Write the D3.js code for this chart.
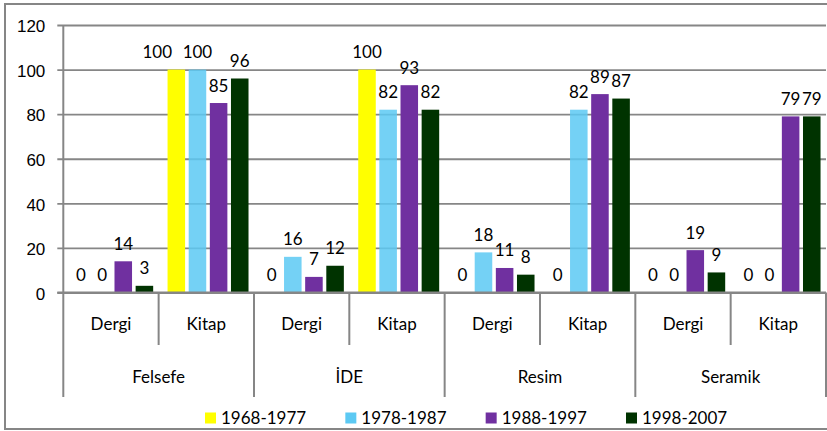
<!DOCTYPE html>
<html>
<head>
<meta charset="utf-8">
<script src="https://cdnjs.cloudflare.com/ajax/libs/d3/7.8.5/d3.min.js"></script>
<style>
  body { margin: 0; background: #fff; }
  svg { display: block; font-family: Lato, 'Open Sans', sans-serif; }
  .axis text, .lbl { font-size: 17px; fill: #000; }
</style>
</head>
<body>
<div id="chart"></div>
<script>
const groups = ['Felsefe', 'İDE', 'Resim', 'Seramik']
const types = ['Dergi', 'Kitap']
const series = ['1968-1977', '1978-1987', '1988-1997', '1998-2007']
const colors = ['#FFFF00', '#5CC9F3', '#7030A0', '#003300']
// one value per group/type pair, in the order Felsefe Dergi, Felsefe Kitap, İDE Dergi ...
const values1968 = [0, 100, 0, 100, 0, 0, 0, 0]
const values1978 = [0, 100, 16, 82, 18, 82, 0, 0]
const values1988 = [14, 85, 7, 93, 11, 89, 19, 79]
const values1998 = [3, 96, 12, 82, 8, 87, 9, 79]
const yTicks = [0, 20, 40, 60, 80, 100, 120]

const size = { width: 827, height: 431 }
const plot = { left: 63.3, right: 826, top: 25, bottom: 292.5 }
const lineColor = '#868686'

const svg = d3.select('#chart').append('svg')
  .attr('width', size.width)
  .attr('height', size.height)

// chart frame
svg.append('rect')
  .attr('x', 5).attr('y', 4)
  .attr('width', 840).attr('height', 425)
  .attr('fill', 'none')
  .attr('stroke', lineColor)
  .attr('stroke-width', 2)

const cats = []
groups.forEach((g) => types.forEach((t) => cats.push(g + '|' + t)))
const allValues = [values1968, values1978, values1988, values1998]
const data = cats.map((c, i) => ({
  cat: c,
  values: series.map((s, j) => ({ series: s, value: allValues[j][i], color: colors[j] }))
}))

const x = d3.scaleBand().domain(cats).range([plot.left, plot.right])
const x1 = d3.scaleBand().domain(series).range([0, x.bandwidth()])
  .paddingInner(0.17).paddingOuter(0.34).align(0.62)
const y = d3.scaleLinear().domain([0, 120]).range([plot.bottom, plot.top])

// y axis with gridlines
const yAxis = svg.append('g')
  .attr('class', 'axis')
  .attr('transform', `translate(${plot.left},0)`)
  .call(d3.axisLeft(y).tickValues(yTicks)
    .tickSizeInner(-(plot.right - plot.left))
    .tickSizeOuter(0)
    .tickPadding(18))
yAxis.select('.domain').remove()
yAxis.selectAll('.tick line')
  .attr('x1', -6)
  .attr('stroke', lineColor)
  .attr('stroke-width', 1.8)
yAxis.selectAll('.tick text').attr('dy', '0.4em')

// bars
const catG = svg.append('g').selectAll('g')
  .data(data)
  .join('g')
  .attr('transform', (d) => `translate(${x(d.cat)},0)`)

catG.selectAll('rect')
  .data((d) => d.values)
  .join('rect')
  .attr('x', (d) => x1(d.series))
  .attr('y', (d) => y(d.value))
  .attr('width', x1.bandwidth())
  .attr('height', (d) => y(0) - y(d.value))
  .attr('fill', (d) => d.color)
  .attr('fill-opacity', (d) => d.series === '1978-1987' ? 0.85 : 1)

catG.each(function () {
  const labels = d3.select(this).selectAll('text')
    .data((d) => d.values)
    .join('text')
    .attr('class', 'lbl')
    .attr('x', (d) => x1(d.series) + x1.bandwidth() / 2)
    .attr('y', (d) => y(d.value) - 11.5)
    .attr('text-anchor', 'middle')
    .text((d) => d.value)
    .nodes()
  // nudge a label left when it runs into its right neighbour (like Excel does)
  for (let i = labels.length - 2; i >= 0; i--) {
    const a = labels[i].getBBox()
    const b = labels[i + 1].getBBox()
    if (Math.abs(a.y - b.y) < 10 && a.x + a.width - b.x > 3) {
      labels[i].setAttribute('x', +labels[i].getAttribute('x') - x1.step() * 0.9)
    }
  }
})

// category axis
const axisG = svg.append('g')
axisG.append('line')
  .attr('x1', plot.left).attr('x2', plot.left)
  .attr('y1', plot.top).attr('y2', 397)
  .attr('stroke', lineColor).attr('stroke-width', 2)
axisG.append('line')
  .attr('x1', plot.left - 6).attr('x2', plot.right)
  .attr('y1', plot.bottom).attr('y2', plot.bottom)
  .attr('stroke', lineColor).attr('stroke-width', 2)

axisG.selectAll('.sep')
  .data(cats)
  .join('line')
  .attr('class', 'sep')
  .attr('x1', (d) => x(d) + x.bandwidth())
  .attr('x2', (d) => x(d) + x.bandwidth())
  .attr('y1', plot.bottom)
  .attr('y2', (d) => d.endsWith('Kitap') ? 397 : 345)
  .attr('stroke', lineColor)
  .attr('stroke-width', 2)

axisG.selectAll('.typeLbl')
  .data(cats)
  .join('text')
  .attr('class', 'lbl typeLbl')
  .attr('x', (d) => x(d) + x.bandwidth() / 2)
  .attr('y', 330)
  .attr('text-anchor', 'middle')
  .text((d) => d.split('|')[1])

axisG.selectAll('.groupLbl')
  .data(groups)
  .join('text')
  .attr('class', 'lbl groupLbl')
  .attr('x', (d) => x(d + '|Dergi') + x.bandwidth())
  .attr('y', 383)
  .attr('text-anchor', 'middle')
  .text((d) => d)

// legend
const legendX = d3.scalePoint().domain(series).range([205, 626])
const legend = svg.append('g').selectAll('g')
  .data(series)
  .join('g')
  .attr('transform', (d) => `translate(${legendX(d)},412.5)`)
legend.append('rect')
  .attr('width', 11).attr('height', 11)
  .attr('fill', (d, i) => colors[i])
legend.append('text')
  .attr('class', 'lbl')
  .attr('x', 16)
  .attr('y', 11)
  .text((d) => d)
</script>
</body>
</html>
